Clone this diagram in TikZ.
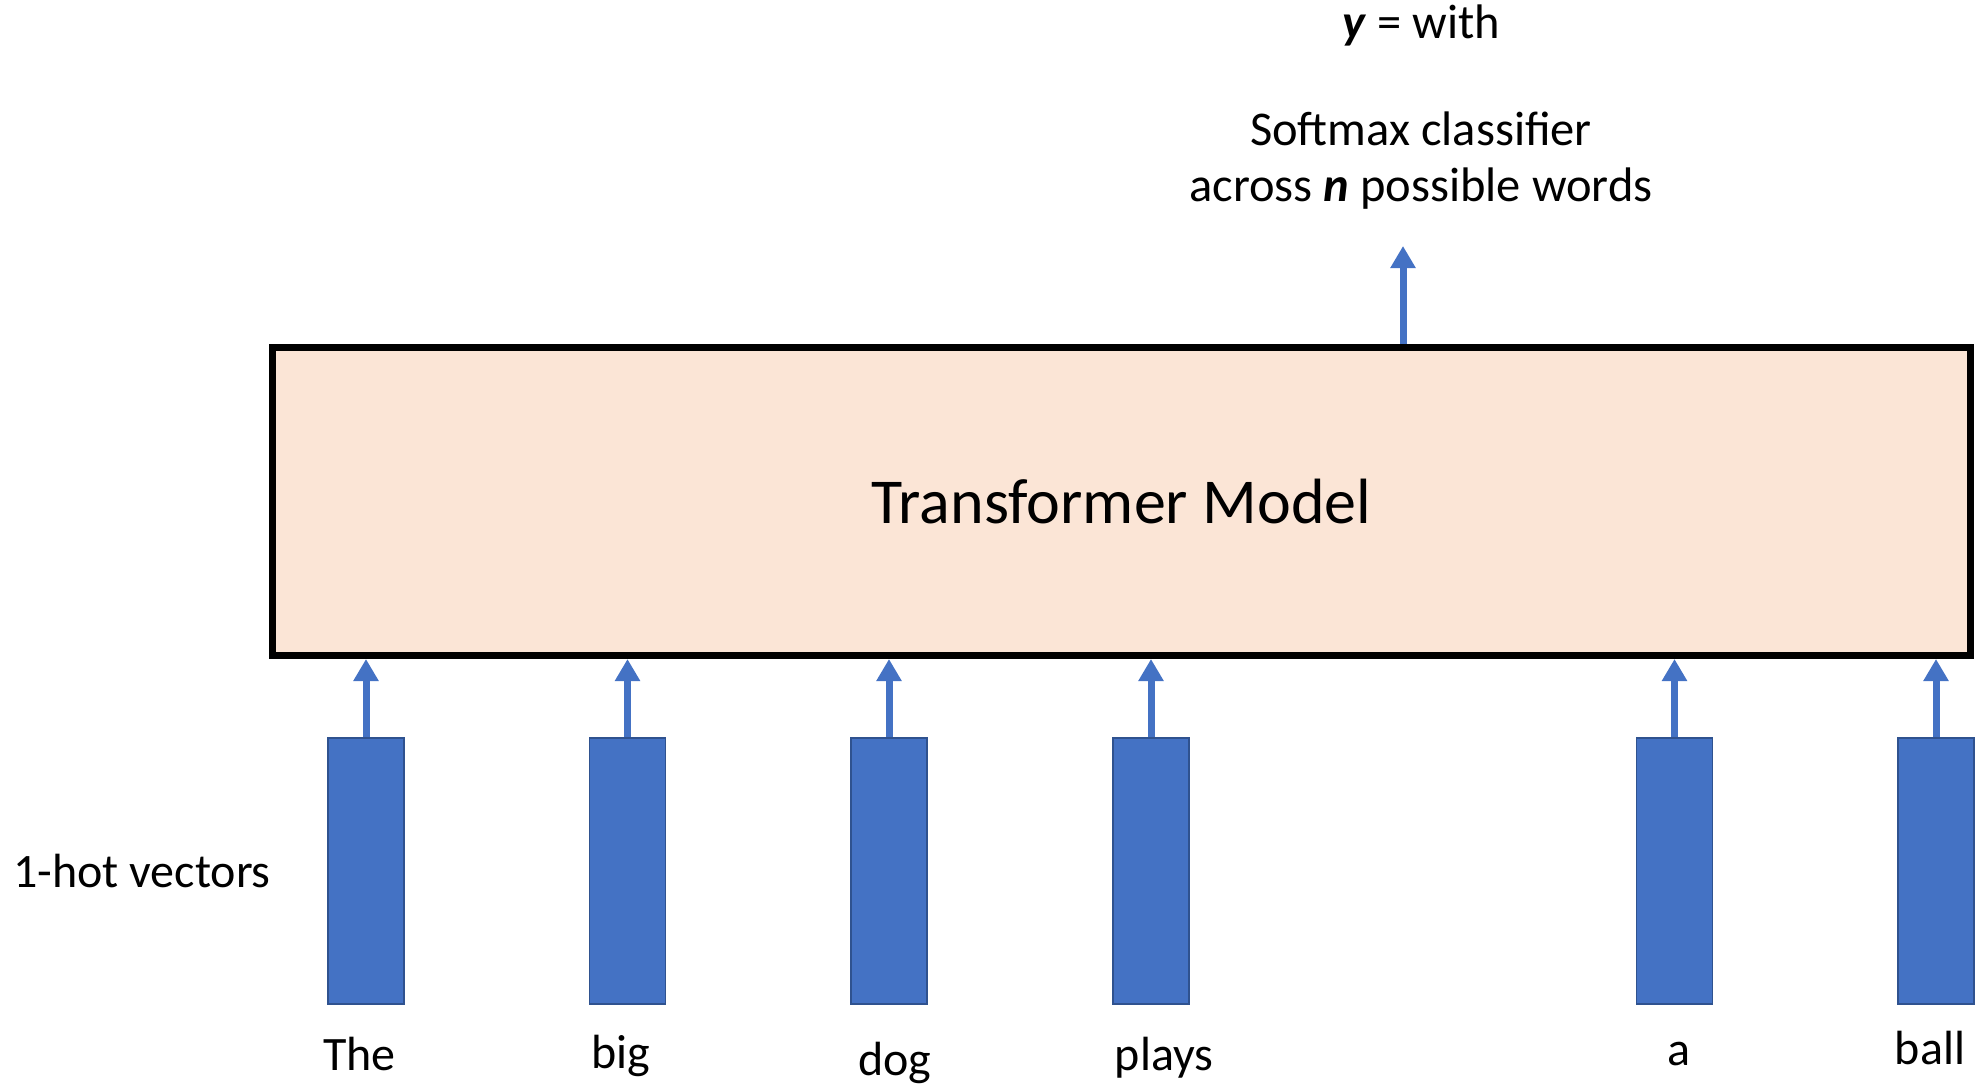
\documentclass[tikz,border=0pt]{standalone}
\usepackage{fontspec}
\setmainfont{Carlito}
\usetikzlibrary{arrows.meta}
\definecolor{vecblue}{HTML}{4472C4}
\definecolor{vecedge}{HTML}{2F528F}
\definecolor{boxfill}{HTML}{FBE5D6}
\begin{document}
\begin{tikzpicture}[x=1pt,y=-1pt,
  vecbox/.style={rectangle,draw=vecedge,fill=vecblue,line width=1.5pt,inner sep=0pt,minimum width=76pt,minimum height=266pt},
  arr/.style={draw=vecblue,line width=7pt,-{Triangle[width=24pt,length=22pt]}},
  lbl/.style={anchor=base,inner sep=0pt,font=\fontsize{48}{57}\selectfont},
  toplbl/.style={lbl,font=\fontsize{48.5}{58}\selectfont},
  model/.style={rectangle,draw=black,fill=boxfill,line width=7pt,inner sep=0pt,minimum width=1698pt,minimum height=308pt,font=\fontsize{64}{76}\selectfont}
]
\useasboundingbox (0,0) rectangle (1975,1086);
\node[model] (box) at (1121.5,501.5) {Transformer Model};

\node[vecbox] (v1) at (366,871) {};
\node[vecbox] (v2) at (627.5,871) {};
\node[vecbox] (v3) at (889,871) {};
\node[vecbox] (v4) at (1151,871) {};
\node[vecbox] (v5) at (1674.5,871) {};
\node[vecbox] (v6) at (1936,871) {};

\foreach \v in {v1,v2,v3,v4,v5,v6}
  \draw[arr] (\v.north) -- (\v.north |- box.south);

\node[lbl] (w1) at (359.5,1070) {The};
\node[lbl] (w2) at (621,1068) {big};
\node[lbl] (w3) at (895,1075) {dog};
\node[lbl] (w4) at (1164,1070) {plays};
\node[lbl] (w5) at (1679,1065) {a};
\node[lbl] (w6) at (1930,1064) {ball};

\node[lbl,anchor=base west] (hot) at (13,887) {1-hot vectors};

\coordinate (out) at (1403,246);
\draw[arr] (out |- box.north) -- (out);

\node[toplbl] (soft1) at (1421,146) {Softmax classifier};
\node[toplbl] (soft2) at (1421,202) {across \textbf{\textit{n}} possible words};
\node[toplbl] (yout) at (1421,39) {\textbf{\textit{y}} = with};
\end{tikzpicture}
\end{document}
